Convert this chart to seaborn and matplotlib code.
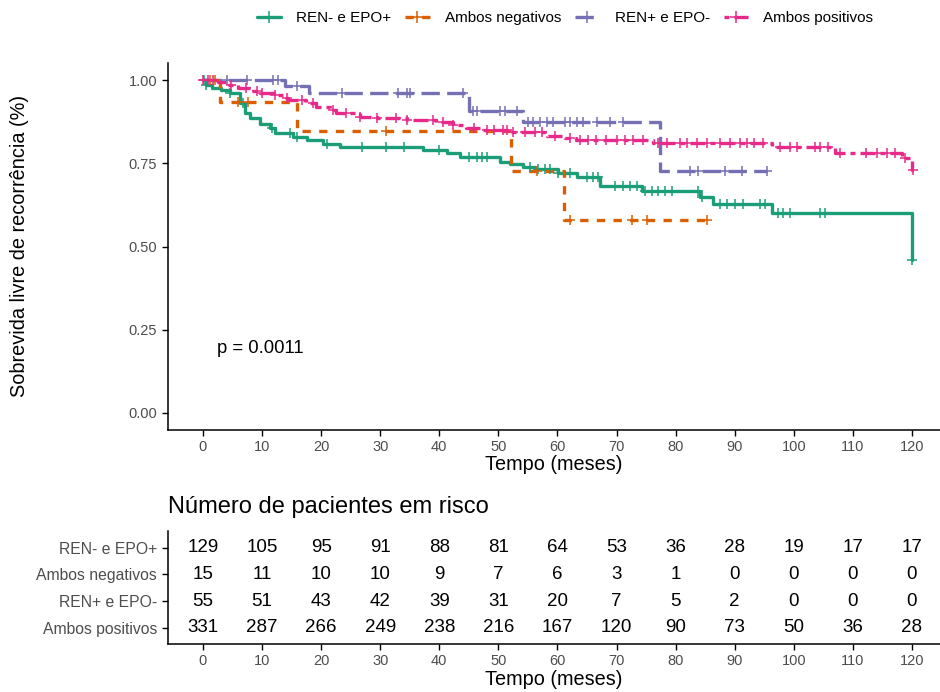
import numpy as np
import pandas as pd
import matplotlib
matplotlib.use("Agg")
import matplotlib.pyplot as plt
from matplotlib.lines import Line2D
import seaborn as sns

# groups and colours (Dark2)
groups = ["REN- e EPO+", "Ambos negativos", "REN+ e EPO-", "Ambos positivos"]
colors = ["#1B9E77", "#D95F02", "#7570B3", "#E7298A"]

# Kaplan-Meier steps: time of each event (months) and survival after it
green_t = [0.5, 1.5, 3, 4.5, 6.3, 7.1, 8.0, 9.6, 11.3, 12.2, 15.2, 17.6, 20.3, 23.2, 37.2, 41.3,
           43.5, 50.3, 52, 54.2, 56.2, 60.1, 63.3, 67.2, 74.3, 84.1, 86.3, 96.3, 120]
green_s = [0.985, 0.977, 0.969, 0.961, 0.93, 0.90, 0.885, 0.867, 0.857, 0.84, 0.83, 0.82, 0.807,
           0.798, 0.79, 0.78, 0.77, 0.755, 0.748, 0.74, 0.733, 0.72, 0.708, 0.682, 0.668, 0.65,
           0.628, 0.60, 0.46]
green_cens = [0.2, 0.6, 4.6, 6.8, 11.7, 14.7, 16, 21, 27, 31, 34, 40, 45, 46.4, 47.2, 48, 55.3,
              56.7, 57.9, 58.7, 60.1, 62.1, 65, 66, 66.9, 69.7, 71.1, 72.3, 73.5, 74.8, 76, 77,
              78.2, 79.4, 83.8, 84.5, 87.5, 88.7, 90, 91.4, 94.3, 95.1, 97.3, 98.2, 99.4, 104.4,
              105.3, 120]

orange_t = [2.9, 15.9, 52.1, 61.1]
orange_s = [0.933, 0.848, 0.727, 0.58]
orange_cens = [1.2, 2.0, 5.9, 7.6, 31, 56.5, 62.1, 72.6, 75.2, 85.3]

purple_t = [13.9, 18, 45, 54.2, 77.4]
purple_s = [0.982, 0.962, 0.907, 0.873, 0.728]
purple_cens = [4, 7.4, 11.8, 12.7, 15.9, 23.5, 33, 34.5, 35, 44, 45.7, 46.4, 50.3, 51.1, 53.1,
               55, 55.9, 57, 58.2, 59.2, 61.3, 62.1, 63.3, 64.3, 66.7, 68.9, 71.1, 82.4, 83.8,
               88.4, 91.2, 95.5]

pink_t = [2.5, 4, 5.9, 8, 9.6, 12, 13.5, 14.4, 17.5, 19.2, 21.5, 22.6, 26.6, 29.4, 34.5, 39.5,
          42.3, 44.6, 46.9, 52, 58.2, 61.3, 63.2, 76.2, 96.3, 107, 118.3, 120]
pink_s = [0.995, 0.985, 0.975, 0.967, 0.96, 0.955, 0.945, 0.94, 0.93, 0.92, 0.91, 0.90, 0.89,
          0.885, 0.88, 0.875, 0.865, 0.855, 0.85, 0.843, 0.832, 0.825, 0.82, 0.812, 0.798, 0.78,
          0.765, 0.73]
pink_cens = [0, 0.8, 1.7, 4.8, 7.3, 9.2, 10, 12.2, 14.2, 16.7, 18.6, 22, 24.2, 26.6, 29.4, 32.7,
             34.5, 39, 40.7, 42.3, 45.8, 48, 49.2, 50.8, 51.5, 52.5, 54.5, 56.2, 57.3, 59.6,
             62.1, 63.8, 65.2, 66.6, 68.3, 70, 71.4, 72.8, 74.5, 77, 78.5, 80.7, 81.9, 83.6,
             85.3, 87.5, 89.2, 90.9, 92, 93.2, 94.8, 97.7, 99.4, 100.5, 103.6, 104.4, 105.8,
             107.8, 112.3, 114, 115.7, 117.1, 118.8, 120.2]

# numbers at risk
risk_times = [0, 10, 20, 30, 40, 50, 60, 70, 80, 90, 100, 110, 120]
risk_green = [129, 105, 95, 91, 88, 81, 64, 53, 36, 28, 19, 17, 17]
risk_orange = [15, 11, 10, 10, 9, 7, 6, 3, 1, 0, 0, 0, 0]
risk_purple = [55, 51, 43, 42, 39, 31, 20, 7, 5, 2, 0, 0, 0]
risk_pink = [331, 287, 266, 249, 238, 216, 167, 120, 90, 73, 50, 36, 28]

steps = [(green_t, green_s, green_cens), (orange_t, orange_s, orange_cens),
         (purple_t, purple_s, purple_cens), (pink_t, pink_s, pink_cens)]
risks = [risk_green, risk_orange, risk_purple, risk_pink]
styles = ["-", (0, (2.5, 2.5)), (0, (5.5, 2.2)), (0, (1.5, 1.5, 4.5, 1.5))]

sns.set_theme(style="ticks")
plt.rcParams["font.family"] = ["Liberation Sans", "DejaVu Sans"]
plt.rcParams["text.color"] = "black"
plt.rcParams["axes.labelcolor"] = "black"

W, H = 940, 692
fig = plt.figure(figsize=(9.4, 6.92), dpi=100)
x0 = 167.5 / W
ax = fig.add_axes([x0, 1 - 429.6 / H, 1 - x0, (429.6 - 63.4) / H])
tab = fig.add_axes([x0, 1 - 644 / H, 1 - x0, (644 - 530.8) / H])

for (t, s, cens), col, ls in zip(steps, colors, styles):
    t_end = max(t[-1], max(cens))
    xs = [0] + list(t) + [t_end]
    ys = [1.0] + list(s) + [s[-1]]
    sns.lineplot(x=xs, y=ys, ax=ax, color=col, linewidth=2.4, linestyle=ls,
                 drawstyle="steps-post", estimator=None, sort=False, legend=False)
    # censored marks sit on the curve
    idx = np.searchsorted(np.array(t), np.array(cens), side="right")
    cs = np.array([1.0] + list(s))[idx]
    sns.scatterplot(x=cens, y=cs, ax=ax, marker="+", s=60, color=col, linewidth=1.1,
                    legend=False, zorder=3)

ax.set_xlim(-6, (W - 203) / 5.908)
ax.set_ylim(-0.05, 1.05)
ax.set_xticks(risk_times)
ax.set_yticks([0, 0.25, 0.5, 0.75, 1.0])
ax.set_yticklabels(["0.00", "0.25", "0.50", "0.75", "1.00"])
ax.tick_params(labelsize=10.5, labelcolor="#4D4D4D", length=4, width=1, color="black")
ax.set_xlabel("Tempo (meses)", fontsize=14.3, labelpad=1)
ax.set_ylabel("")
fig.text(20 / W, 1 - 246 / H, "Sobrevida livre de recorrência (%)", rotation=90,
         ha="center", va="center", fontsize=14.3)
ax.text(2.4, 0.195, "p = 0.0011", ha="left", va="center", fontsize=13.3)
sns.despine(ax=ax)
for sp in ["left", "bottom"]:
    ax.spines[sp].set_linewidth(1.1)
    ax.spines[sp].set_color("black")

# risk table
ypos = [4, 3, 2, 1]
for y, r in zip(ypos, risks):
    for xt, n in zip(risk_times, r):
        tab.text(xt, y, str(n), ha="center", va="center", fontsize=13.5, color="black")
tab.set_xlim(ax.get_xlim())
tab.set_ylim(0.4, 4.63)
tab.set_xticks(risk_times)
tab.set_yticks(ypos)
tab.set_yticklabels(groups)
tab.tick_params(labelcolor="#4D4D4D", length=4, width=1, color="black")
tab.tick_params(axis="y", labelsize=11.3)
tab.tick_params(axis="x", labelsize=10.5)
tab.set_xlabel("Tempo (meses)", fontsize=14.3, labelpad=1)
sns.despine(ax=tab)
for sp in ["left", "bottom"]:
    tab.spines[sp].set_linewidth(1.1)
    tab.spines[sp].set_color("black")
fig.text(x0, 1 - 507 / H, "Número de pacientes em risco", ha="left", va="center",
         fontsize=17)

handles = [Line2D([0], [0], color=c, linewidth=2.4, linestyle=ls, marker="+",
                  markersize=8, markeredgewidth=1.1) for c, ls in zip(colors, styles)]
fig.legend(handles, groups, loc="center", bbox_to_anchor=(565 / W, 1 - 18 / H), ncol=4,
           frameon=False, fontsize=11, handlelength=1.6, handletextpad=1.0,
           columnspacing=0.9)

fig.savefig("out.png", dpi=100)
